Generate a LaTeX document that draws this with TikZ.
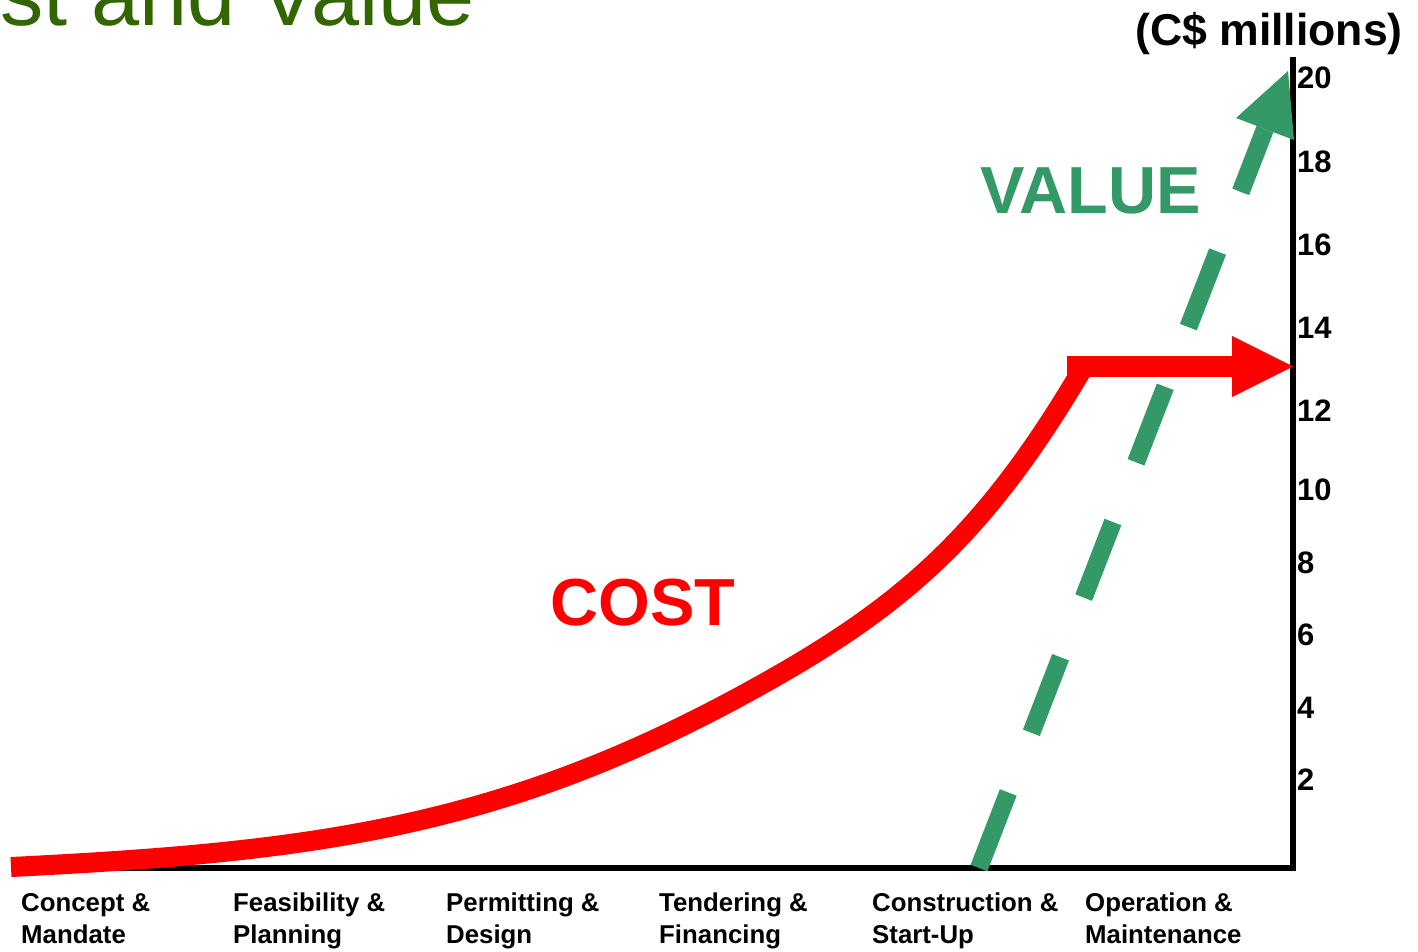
\documentclass[tikz,border=0pt]{standalone}
\usepackage{fontspec}
\setmainfont{Liberation Sans}
\definecolor{valgreen}{HTML}{339966}
\definecolor{costred}{HTML}{FF0000}
\definecolor{titlegreen}{HTML}{336600}
\begin{document}
\begin{tikzpicture}[x=1pt,y=-1pt,
  axisline/.style={draw=black,line width=5.5pt,line join=miter},
  costline/.style={draw=costred,line width=20pt,line cap=butt},
  costbar/.style={draw=costred,line width=21pt,line cap=butt},
  valline/.style={draw=valgreen,line width=18pt,line cap=butt,dash pattern=on 81pt off 64pt},
  tick/.style={anchor=base west,inner sep=0pt,font=\fontsize{31pt}{31pt}\selectfont\bfseries},
  phase/.style={anchor=base west,inner sep=0pt,align=left,font=\fontsize{25.8pt}{31.7pt}\selectfont\bfseries},
  bigword/.style={anchor=base west,inner sep=0pt,font=\fontsize{66.6pt}{66.6pt}\selectfont\bfseries}]
\useasboundingbox (0,0) rectangle (1418,951);
\fill[white] (0,0) rectangle (1418,951);

% title (cut off at top-left)
\node[anchor=base west,inner sep=0pt,text=titlegreen,font=\fontsize{86.5pt}{86.5pt}\selectfont] (title) at (0,25) {st and Value};

% axes
\coordinate (xo) at (14,868);
\coordinate (corner) at (1293,868);
\coordinate (ytop) at (1293,57);
\draw[axisline] (xo) -- (corner) -- (ytop);

% unit label
\node[anchor=base west,inner sep=0pt,font=\fontsize{44.6pt}{44.6pt}\selectfont\bfseries] (unit) at (1135,45) {(C\$ millions)};

% tick labels
\node[tick] (t20) at (1297,88) {20};
\node[tick] (t18) at (1297,172) {18};
\node[tick] (t16) at (1297,255) {16};
\node[tick] (t14) at (1297,338) {14};
\node[tick] (t12) at (1297,421) {12};
\node[tick] (t10) at (1297,500) {10};
\node[tick] (t8) at (1297,573) {8};
\node[tick] (t6) at (1297,645) {6};
\node[tick] (t4) at (1297,718) {4};
\node[tick] (t2) at (1297,790) {2};

% phase labels (base = last line)
\node[phase] (p1) at (21,943.5) {Concept \&\\Mandate};
\node[phase] (p2) at (233,943.5) {Feasibility \&\\Planning};
\node[phase] (p3) at (446,943.5) {Permitting \&\\Design};
\node[phase] (p4) at (659,943.5) {Tendering \&\\Financing};
\node[phase] (p5) at (872,943.5) {Construction \&\\Start-Up};
\node[phase] (p6) at (1085,943.5) {Operation \&\\Maintenance};

% cost curve
\coordinate (c0) at (11,867);
\coordinate (cm) at (750,691);
\coordinate (c1) at (1083,368);
\draw[costline] (c0) .. controls (311,852) and (500,828.5) .. (cm)
                     .. controls (900,608.5) and (983,538) .. (c1);
\coordinate (cs) at (1067,366.5);
\coordinate (cb) at (1233,366.5);
\coordinate (ct) at (1293,366.5);
\draw[costbar] (cs) -- (cb);
\fill[costred] (1232,336) -- (ct) -- (1232,397) -- cycle;
\node[bigword,text=costred] (cost) at (550,625) {COST};

% value arrow
\coordinate (vs) at (979,868);
\coordinate (vb) at (1265,129);
\coordinate (vt) at (1288,71);
\draw[valline] (vs) -- (vb);
\fill[valgreen] (1236,118) -- (vt) -- (1294,140) -- cycle;
\node[bigword,text=valgreen] (value) at (980,213) {VALUE};
\end{tikzpicture}
\end{document}
